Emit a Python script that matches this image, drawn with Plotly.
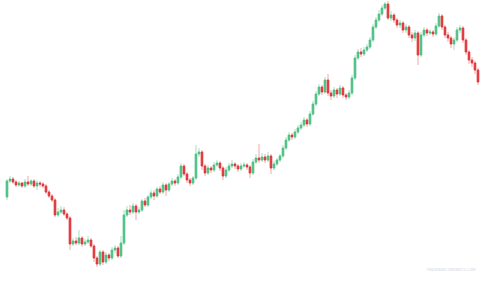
import plotly.graph_objects as go

idx = list(range(158))

opens = [103,119,121,118,115,117,114,118,116,119,114,117,116,114,108,104,100,85,88,90,
         86,82,56,59,57,62,56,58,60,54,42,36,48,38,45,42,50,52,44,57,
         85,90,88,94,88,90,99,95,103,107,104,111,108,115,110,116,119,117,123,134,
         126,120,117,122,146,148,134,127,132,130,135,137,132,124,130,134,136,134,131,134,
         135,133,127,138,142,140,143,140,144,132,136,140,144,152,160,165,163,168,172,175,
         180,176,186,196,206,213,208,220,207,204,210,206,212,205,203,207,222,242,248,246,
         250,253,260,273,280,286,292,296,282,285,280,275,277,270,273,265,262,267,245,265,
         270,267,268,266,274,284,273,265,262,256,260,270,272,260,248,240,237,230]
closes = [119,121,118,115,117,114,118,116,119,114,117,116,114,108,104,100,85,88,90,86,
          82,56,59,57,62,56,58,60,54,42,36,48,38,45,42,50,52,44,57,85,
          90,88,94,88,90,99,95,103,107,104,111,108,115,110,116,119,117,123,134,126,
          120,117,122,146,148,134,127,132,130,135,137,132,124,130,134,136,134,131,134,135,
          133,127,138,142,140,143,140,144,132,136,140,144,152,160,165,163,168,172,175,180,
          176,186,196,206,213,208,220,207,204,210,206,212,205,203,207,222,242,248,246,250,
          253,260,273,280,286,292,296,282,285,280,275,277,270,273,265,262,267,245,265,270,
          267,268,266,274,284,273,265,262,256,260,270,272,260,248,240,237,230,218]
highs = [121,124,123,120,119,118,121,124,121,121,120,119,118,116,110,106,102,92,94,93,
         88,84,62,63,70,64,61,64,62,56,44,50,50,48,47,53,55,54,64,90,
         94,95,97,96,93,101,102,105,110,110,113,114,118,117,118,122,121,126,137,136,
         128,122,124,155,152,150,136,135,134,138,140,139,134,133,137,140,138,136,137,138,
         137,135,141,146,156,147,146,148,146,139,142,146,155,163,168,167,171,175,178,183,
         182,189,199,209,216,215,223,226,210,213,212,215,214,207,210,225,245,251,252,253,
         256,263,276,283,290,295,298,299,289,287,282,280,279,276,275,268,270,269,268,273,
         272,271,270,277,287,286,275,268,264,263,273,275,274,262,250,243,239,232]
lows = [100,117,116,113,113,112,112,114,114,112,110,113,112,106,102,98,83,83,86,84,
        80,50,54,55,55,53,54,56,52,38,33,34,35,36,39,40,47,42,42,55,
        83,85,86,80,86,88,93,93,101,100,102,106,106,104,108,114,114,115,121,124,
        117,114,115,120,143,130,124,125,127,128,133,129,120,122,128,132,131,128,129,132,
        130,122,125,136,137,138,137,138,126,130,134,138,142,150,158,160,161,166,170,173,
        173,174,184,194,204,205,206,204,200,202,202,204,202,200,201,205,220,240,243,244,
        248,251,258,271,278,284,290,280,279,277,272,272,267,267,262,258,259,235,243,263,
        264,265,263,264,272,270,262,258,252,250,258,267,257,245,236,233,226,215]

GREEN = "#4fc086"
RED = "#e2373b"
GREEN_WICK = "#a9e0c1"
RED_WICK = "#f2a9ab"

body_top = [max(o, c) for o, c in zip(opens, closes)]
body_bot = [min(o, c) for o, c in zip(opens, closes)]

fig = go.Figure()
# wicks (light)
fig.add_trace(go.Candlestick(
    x=idx, open=opens, high=highs, low=lows, close=closes,
    increasing=dict(line=dict(color=GREEN_WICK, width=1), fillcolor=GREEN_WICK),
    decreasing=dict(line=dict(color=RED_WICK, width=1), fillcolor=RED_WICK),
    whiskerwidth=0, showlegend=False, hoverinfo="skip",
))
# bodies (solid)
fig.add_trace(go.Candlestick(
    x=idx, open=opens, high=body_top, low=body_bot, close=closes,
    increasing=dict(line=dict(color=GREEN, width=1), fillcolor=GREEN),
    decreasing=dict(line=dict(color=RED, width=1), fillcolor=RED),
    whiskerwidth=0, showlegend=False, hoverinfo="skip",
))

fig.update_layout(
    width=493, height=282,
    margin=dict(l=0, r=0, t=0, b=0),
    paper_bgcolor="white", plot_bgcolor="white",
    xaxis=dict(visible=False, range=[-2.333, 162.0], rangeslider=dict(visible=False)),
    yaxis=dict(visible=False, range=[18, 300]),
    annotations=[dict(
        text="TRADINGECONOMICS.COM", x=0.97, y=0.045, xref="paper", yref="paper",
        xanchor="right", yanchor="middle", showarrow=False,
        font=dict(size=4, color="#d3d8e4", family="Roboto"),
    )],
)

fig.write_html("out.html")
